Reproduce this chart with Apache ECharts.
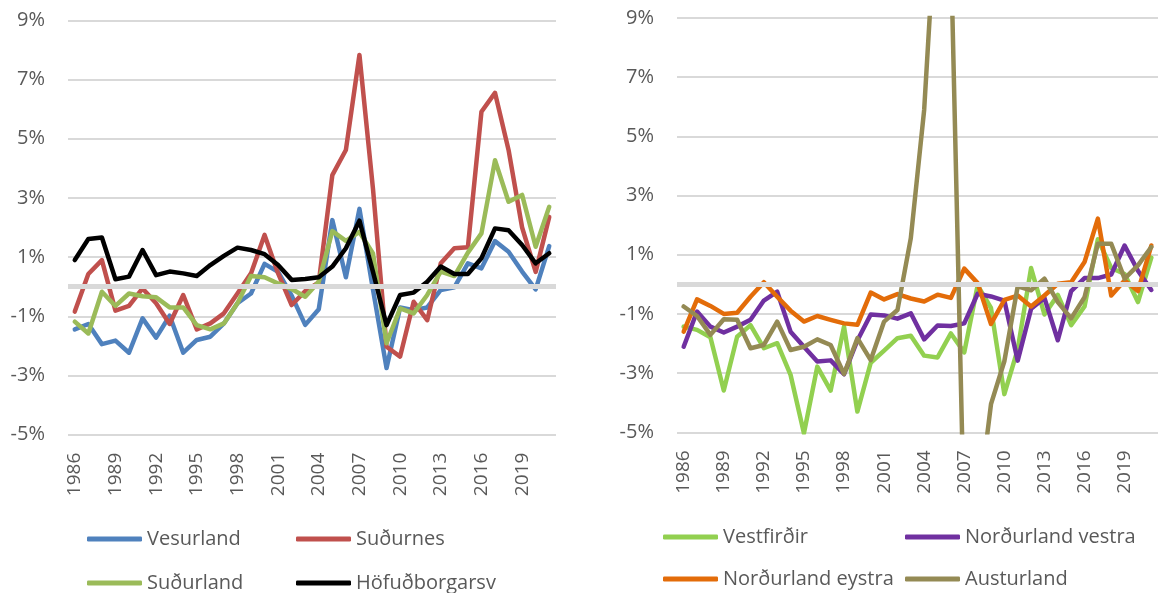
<!DOCTYPE html>
<html>
<head>
<meta charset="utf-8">
<script src="https://cdn.jsdelivr.net/npm/echarts@6/dist/echarts.min.js"></script>
<style>
  html, body { margin: 0; padding: 0; background: #fff; }
  #chart { width: 1158px; height: 593px; }
</style>
</head>
<body>
<div id="chart"></div>
<script>
// ár (flokkar)
const years = ['1986', '1987', '1988', '1989', '1990', '1991', '1992', '1993', '1994', '1995',
  '1996', '1997', '1998', '1999', '2000', '2001', '2002', '2003', '2004', '2005',
  '2006', '2007', '2008', '2009', '2010', '2011', '2012', '2013', '2014', '2015',
  '2016', '2017', '2018', '2019', '2020', '2021'];

const yTicks = [-5, -3, -1, 1, 3, 5, 7, 9];

// vinstri mynd
const vesurland = [-1.44, -1.26, -1.94, -1.82, -2.23, -1.07, -1.72, -0.98, -2.23, -1.80,
  -1.69, -1.24, -0.56, -0.23, 0.77, 0.50, -0.30, -1.29, -0.76, 2.25,
  0.32, 2.63, -0.10, -2.75, -0.70, -0.79, -0.70, -0.11, -0.02, 0.79,
  0.62, 1.54, 1.18, 0.51, -0.09, 1.37];
const sudurnes = [-0.84, 0.43, 0.90, -0.81, -0.65, -0.06, -0.56, -1.26, -0.28, -1.44,
  -1.24, -0.90, -0.23, 0.45, 1.75, 0.45, -0.62, -0.15, 0.15, 3.77,
  4.62, 7.83, 3.30, -2.03, -2.36, -0.51, -1.13, 0.79, 1.30, 1.33,
  5.91, 6.55, 4.62, 2.00, 0.50, 2.36];
const sudurland = [-1.18, -1.58, -0.17, -0.65, -0.23, -0.32, -0.36, -0.70, -0.70, -1.30,
  -1.44, -1.24, -0.56, 0.36, 0.32, 0.11, -0.08, -0.34, 0.17, 1.88,
  1.55, 1.85, 1.12, -1.91, -0.73, -0.90, -0.28, 0.51, 0.36, 1.15,
  1.80, 4.27, 2.87, 3.10, 1.35, 2.70];
const hofudborgarsv = [0.90, 1.61, 1.66, 0.25, 0.34, 1.24, 0.39, 0.51, 0.45, 0.36,
  0.73, 1.04, 1.32, 1.24, 1.10, 0.73, 0.23, 0.26, 0.32, 0.68,
  1.30, 2.23, 0.50, -1.30, -0.28, -0.20, 0.17, 0.68, 0.43, 0.43,
  0.96, 1.97, 1.91, 1.41, 0.79, 1.13];

// hægri mynd
const vestfirdir = [-1.43, -1.54, -1.79, -3.59, -1.77, -1.38, -2.16, -1.99, -3.06, -5.03,
  -2.78, -3.59, -1.43, -4.30, -2.65, -2.24, -1.82, -1.74, -2.41, -2.47,
  -1.66, -2.30, -0.04, -0.80, -3.71, -2.20, 0.55, -1.02, -0.36, -1.38,
  -0.75, 1.52, 0.55, 0.35, -0.60, 0.90];
const nordurlandVestra = [-2.11, -0.92, -1.43, -1.63, -1.43, -1.20, -0.55, -0.25, -1.60, -2.11,
  -2.61, -2.57, -3.04, -1.90, -1.02, -1.05, -1.16, -0.98, -1.86, -1.39,
  -1.41, -1.32, -0.32, -0.41, -0.55, -2.58, -0.83, -0.46, -1.89, -0.23,
  0.21, 0.21, 0.33, 1.31, 0.46, -0.19];
const nordurlandEystra = [-1.60, -0.51, -0.73, -1.00, -0.96, -0.42, 0.07, -0.42, -0.89, -1.26,
  -1.07, -1.20, -1.32, -1.37, -0.28, -0.51, -0.33, -0.48, -0.58, -0.35,
  -0.46, 0.53, 0.04, -1.34, -0.53, -0.38, -0.75, -0.38, 0.02, 0.07,
  0.75, 2.22, -0.38, 0.13, -0.23, 1.31];
const austurland = [-0.75, -1.07, -1.71, -1.18, -1.20, -2.16, -2.05, -1.26, -2.22, -2.11,
  -1.86, -2.05, -3.03, -1.82, -2.56, -1.26, -0.87, 1.56, 5.90, 13.50,
  11.30, -8.30, -7.70, -4.05, -2.60, -0.07, -0.20, 0.19, -0.60, -1.15,
  -0.44, 1.37, 1.37, 0.19, 0.64, 1.26];

const FONT = '"Open Sans", "DejaVu Sans", sans-serif';
const TEXT = '#595959';
const GRIDLINE = '#d9d9d9';

// x-ás
function makeXAxis(index) {
  return {
    type: 'category',
    gridIndex: index,
    data: years,
    boundaryGap: true,
    axisLine: { show: false },
    axisTick: { show: false },
    axisLabel: {
      interval: 2,
      rotate: 90,
      margin: 18,
      color: TEXT,
      fontFamily: FONT,
      fontSize: 19
    }
  };
}

// y-ás
function makeYAxis(index) {
  return {
    type: 'value',
    gridIndex: index,
    min: yTicks[0],
    max: yTicks[yTicks.length - 1],
    interval: 2,
    axisLine: { show: false },
    axisTick: { show: false },
    splitLine: { lineStyle: { color: GRIDLINE, width: 2 } },
    axisLabel: {
      margin: 23,
      color: TEXT,
      fontFamily: FONT,
      fontSize: 20,
      formatter: v => v + '%'
    }
  };
}

function makeLine(name, data, color, index) {
  return {
    name: name,
    type: 'line',
    xAxisIndex: index,
    yAxisIndex: index,
    data: data,
    symbol: 'none',
    z: 3,
    itemStyle: { color: color },
    lineStyle: { color: color, width: 4.5, cap: 'round', join: 'round' },
    emphasis: { disabled: true }
  };
}

// grá 0% lína (flokkaásinn)
function zeroLine(index) {
  return {
    name: 'zero' + index,
    type: 'line',
    xAxisIndex: index,
    yAxisIndex: index,
    data: [],
    z: 1,
    silent: true,
    markLine: {
      silent: true,
      symbol: 'none',
      label: { show: false },
      lineStyle: { color: GRIDLINE, width: 5, type: 'solid' },
      data: [{ yAxis: 0 }]
    }
  };
}

// ein skýring fyrir hverja röð, svo þær raðist eins og í Excel
function makeLegend(left, top, name) {
  return {
    orient: 'horizontal',
    left: left,
    top: top,
    padding: 0,
    itemWidth: 55,
    itemHeight: 5,
    icon: 'roundRect',
    selectedMode: false,
    data: [name],
    textStyle: { color: TEXT, fontFamily: FONT, fontSize: 20, lineHeight: 20 }
  };
}

const chart = echarts.init(document.getElementById('chart'));

const option = {
  animation: false,
  grid: [
    { left: 68, top: 20.3, width: 488, height: 414.4 },
    { left: 677, top: 17.9, width: 488, height: 414.4 }
  ],
  xAxis: [makeXAxis(0), makeXAxis(1)],
  yAxis: [makeYAxis(0), makeYAxis(1)],
  legend: [
    makeLegend(87, 529, 'Vesurland'),
    makeLegend(296, 529, 'Suðurnes'),
    makeLegend(87, 573, 'Suðurland'),
    makeLegend(296, 573, 'Höfuðborgarsv'),
    makeLegend(663, 527, 'Vestfirðir'),
    makeLegend(905, 527, 'Norðurland vestra'),
    makeLegend(663, 569, 'Norðurland eystra'),
    makeLegend(905, 569, 'Austurland')
  ],
  series: [
    zeroLine(0),
    zeroLine(1),
    makeLine('Vesurland', vesurland, '#4F81BD', 0),
    makeLine('Suðurnes', sudurnes, '#C0504D', 0),
    makeLine('Suðurland', sudurland, '#9BBB59', 0),
    makeLine('Höfuðborgarsv', hofudborgarsv, '#000000', 0),
    makeLine('Vestfirðir', vestfirdir, '#92D050', 1),
    makeLine('Norðurland vestra', nordurlandVestra, '#7030A0', 1),
    makeLine('Norðurland eystra', nordurlandEystra, '#E36C09', 1),
    makeLine('Austurland', austurland, '#948A54', 1)
  ]
};

chart.setOption(option);
</script>
</body>
</html>
